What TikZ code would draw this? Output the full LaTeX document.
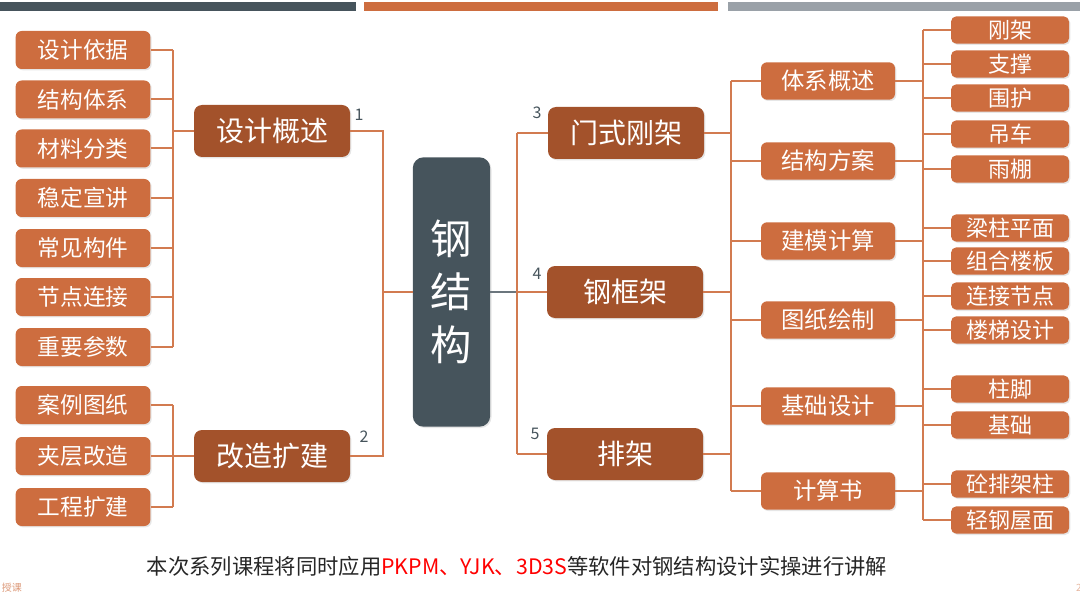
\documentclass[tikz,border=0pt]{standalone}
\usepackage{fontspec}
\setmainfont{Noto Sans CJK SC}
\usetikzlibrary{positioning,shadows}

\definecolor{rouille}{HTML}{A3522B}
\definecolor{orangef}{HTML}{CD6D3F}
\definecolor{ardoise}{HTML}{46545C}
\definecolor{lien}{HTML}{D27B50}
\definecolor{grisbar}{HTML}{9AA1A8}

\tikzset{
  boite/.style={text=white, inner sep=0pt, drop shadow={opacity=0.2, shadow xshift=1pt, shadow yshift=-1pt}},
  feuille/.style={boite, fill=orangef, rounded corners=4.5pt, minimum width=101pt, minimum height=28.5pt, font=\fontsize{17}{20}\selectfont},
  branche/.style={boite, fill=rouille, rounded corners=6pt, minimum width=117pt, minimum height=39pt, font=\fontsize{21}{24}\selectfont},
  sousbranche/.style={boite, fill=orangef, rounded corners=4.5pt, minimum width=100.5pt, minimum height=28pt, font=\fontsize{17.5}{20}\selectfont},
  detail/.style={boite, fill=orangef, rounded corners=4pt, minimum width=88.5pt, minimum height=20.5pt, font=\fontsize{16.5}{18}\selectfont},
  lien/.style={draw=lien, line width=1.5pt},
  numero/.style={text=ardoise, font=\fontsize{12}{14}\selectfont}
}

\begin{document}
\begin{tikzpicture}[x=0.75pt,y=-0.75pt]
\useasboundingbox (0,0) rectangle (1080,595);

% Bandeau
\fill[ardoise] (0,2) rectangle (356,11);
\fill[orangef] (364,2) rectangle (718,11);
\fill[grisbar] (728,2) rectangle (1080,11);

% Axes des lignes
\coordinate (xa) at (173,0);
\coordinate (xb) at (383,0);
\coordinate (xc) at (517,0);
\coordinate (xd) at (731,0);
\coordinate (xe) at (923,0);

% Noeud central
\node[boite, fill=ardoise, rounded corners=8pt, minimum width=58pt, minimum height=202pt,
      align=center, font=\fontsize{31}{40}\selectfont] (acier) at (451.5,292) {钢\\结\\构};

% Branches
\node[branche] (sjgs) at (272,131) {设计概述};
\node[branche] (gzkj) at (272,456) {改造扩建};
\node[branche] (msgj) at (626,133) {门式刚架};
\node[branche] (gkj) at (625,292) {钢框架};
\node[branche] (pj) at (625,454) {排架};

% Numeros
\node[numero] (n1) at (359,115) {1};
\node[numero] (n2) at (364,437) {2};
\node[numero] (n3) at (537,113) {3};
\node[numero] (n4) at (537,274) {4};
\node[numero] (n5) at (535,434) {5};

% Feuilles gauche
\foreach \nom/\y/\texte in {g1/50/设计依据, g2/99.5/结构体系, g3/148.5/材料分类, g4/198/稳定宣讲,
                            g5/248/常见构件, g6/297/节点连接, g7/347/重要参数,
                            h1/405/案例图纸, h2/456/夹层改造, h3/507/工程扩建} {
    \node[feuille] (\nom) at (83,\y) {\texte};
    \draw[lien] (\nom.east) -- (\nom.east -| xa);
}
\draw[lien] (g1.east -| xa) -- (g7.east -| xa);
\draw[lien] (h1.east -| xa) -- (h3.east -| xa);
\draw[lien] (sjgs.west) -- (sjgs.west -| xa);
\draw[lien] (gzkj.west) -- (gzkj.west -| xa);

% Vers le centre
\draw[lien] (sjgs.east) -| (gzkj.east -| xb) -- (gzkj.east);
\draw[lien] (acier.west) -- (acier.west -| xb);
\draw[draw=ardoise!80, line width=1.5pt] (acier.east) -- (acier.east -| xc);
\draw[lien] (msgj.west -| xc) -- (pj.west -| xc);
\foreach \nom in {msgj,gkj,pj} {
    \draw[lien] (\nom.west) -- (\nom.west -| xc);
    \draw[lien] (\nom.east) -- (\nom.east -| xd);
}

% Sous-branches droite
\foreach \nom/\y/\texte in {r1/81/体系概述, r2/161/结构方案, r3/241/建模计算,
                            r4/320/图纸绘制, r5/406/基础设计, r6/491/计算书} {
    \node[sousbranche] (\nom) at (828,\y) {\texte};
    \draw[lien] (\nom.west) -- (\nom.west -| xd);
    \draw[lien] (\nom.east) -- (\nom.east -| xe);
}
\draw[lien] (r1.west -| xd) -- (r6.west -| xd);

% Details droite
\foreach \nom/\y/\texte in {d1/30/刚架, d2/64/支撑, d3/98/围护, d4/134/吊车, d5/169/雨棚,
                            d6/228/梁柱平面, d7/261/组合楼板, d8/296/连接节点, d9/330/楼梯设计,
                            d10/389/柱脚, d11/425/基础, d12/484/砼排架柱, d13/520/轻钢屋面} {
    \node[detail] (\nom) at (1010,\y) {\texte};
    \draw[lien] (\nom.west) -- (\nom.west -| xe);
}
\draw[lien] (d1.west -| xe) -- (d13.west -| xe);

% Legende
\node[text=black!85, font=\fontsize{16}{18}\selectfont] (legende) at (517,566)
  {本次系列课程将同时应用\textcolor{red}{PKPM、YJK、3D3S}等软件对钢结构设计实操进行讲解};
\node[text=orangef!70, font=\fontsize{7.5}{9}\selectfont] (auteur) at (12,588) {授课};
\node[text=orangef!50, font=\fontsize{7.5}{9}\selectfont] (page) at (1079,588) {2};

\end{tikzpicture}
\end{document}
